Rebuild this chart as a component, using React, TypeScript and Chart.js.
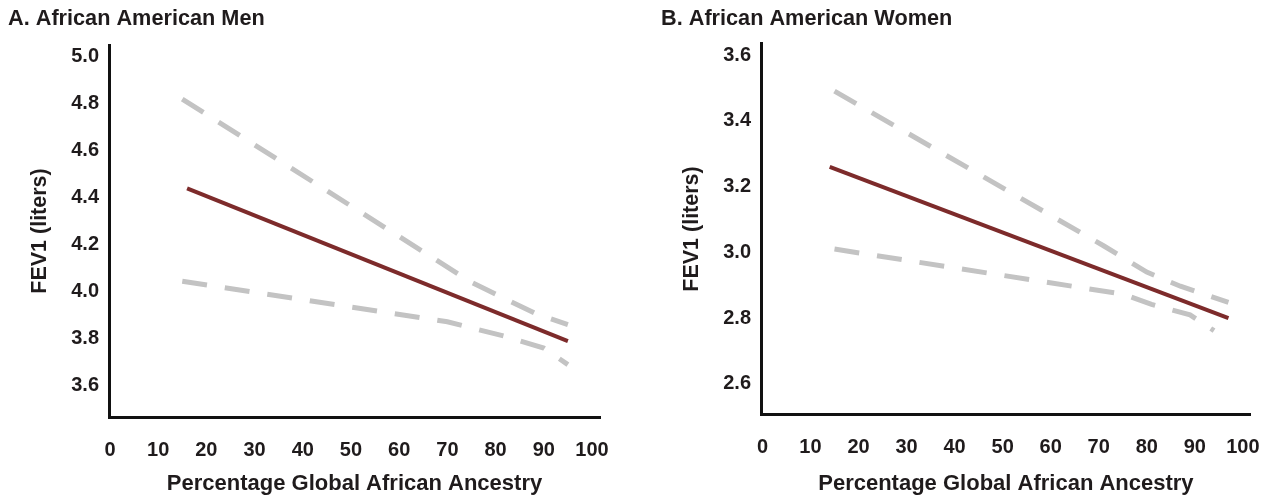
import React, { useEffect, useRef } from 'react';
import { Chart, registerables } from 'chart.js';

Chart.register(...registerables);

// ---------- data ----------
const X_TICKS = [0, 10, 20, 30, 40, 50, 60, 70, 80, 90, 100];
const MEN_Y_TICKS = [3.6, 3.8, 4.0, 4.2, 4.4, 4.6, 4.8, 5.0];
const WOMEN_Y_TICKS = [2.6, 2.8, 3.0, 3.2, 3.4, 3.6];

const MEN_FIT_X = [16, 95];
const MEN_FIT_Y = [4.44, 3.79];
const MEN_UPPER_X = [15, 75, 80, 88, 95];
const MEN_UPPER_Y = [4.82, 4.04, 3.99, 3.91, 3.86];
const MEN_LOWER_X = [15, 70, 82, 90, 95];
const MEN_LOWER_Y = [4.045, 3.872, 3.81, 3.76, 3.69];

const WOMEN_FIT_X = [14, 97];
const WOMEN_FIT_Y = [3.26, 2.8];
const WOMEN_UPPER_X = [15, 71, 80, 87, 97];
const WOMEN_UPPER_Y = [3.49, 3.02, 2.94, 2.897, 2.848];
const WOMEN_LOWER_X = [15, 75, 81, 89, 94];
const WOMEN_LOWER_Y = [3.01, 2.873, 2.842, 2.81, 2.762];

const X_TITLE = 'Percentage Global African Ancestry';
const Y_TITLE = 'FEV1 (liters)';
const MEN_TITLE = 'A. African American Men';
const WOMEN_TITLE = 'B. African American Women';

// ---------- styles ----------
const FONT = "Arial, 'Liberation Sans', Helvetica, sans-serif";
const TEXT = '#1f1b1c';
const AXIS = '#111111';
const FIT_COLOR = '#7d2b2b';
const CI_COLOR = '#c3c3c3';

const toXY = (xs: number[], ys: number[]) => xs.map((x, i) => ({ x, y: ys[i] }));

type PanelSpec = {
  title: string;
  fitX: number[]; fitY: number[];
  upX: number[]; upY: number[];
  loX: number[]; loY: number[];
  yTicks: number[];
  xMin: number; xMax: number; yMin: number; yMax: number;
  padLeft: number; padRight: number;
  yAxisWidth: number; xAxisHeight: number;
  titleBottom: number; yTitlePad: number;
};

function buildConfig(p: PanelSpec): any {
  const font = (size: number) => ({ family: FONT, size, weight: 'bold' as const, lineHeight: 1.2 });
  return {
    type: 'line',
    data: {
      datasets: [
        { data: toXY(p.fitX, p.fitY), borderColor: FIT_COLOR, borderWidth: 4, pointRadius: 0, fill: false, tension: 0 },
        { data: toXY(p.upX, p.upY), borderColor: CI_COLOR, borderWidth: 5, borderDash: [25, 18], borderCapStyle: 'butt', pointRadius: 0, fill: false, tension: 0 },
        { data: toXY(p.loX, p.loY), borderColor: CI_COLOR, borderWidth: 5, borderDash: [25, 18], borderCapStyle: 'butt', pointRadius: 0, fill: false, tension: 0 },
      ],
    },
    options: {
      responsive: false,
      animation: false,
      events: [],
      layout: { padding: { left: p.padLeft, right: p.padRight, top: 0, bottom: 0 } },
      plugins: {
        legend: { display: false },
        tooltip: { enabled: false },
        title: {
          display: true,
          text: p.title,
          align: 'start',
          color: TEXT,
          font: font(21.7),
          padding: { top: 6.5, bottom: p.titleBottom },
        },
      },
      scales: {
        x: {
          type: 'linear',
          bounds: 'data',
          min: p.xMin,
          max: p.xMax,
          afterBuildTicks: (s: any) => { s.ticks = X_TICKS.map((value) => ({ value })); },
          afterFit: (s: any) => { s.height = p.xAxisHeight; },
          grid: { display: false, drawTicks: false },
          border: { display: true, color: AXIS, width: 3 },
          ticks: { padding: 21, color: TEXT, font: font(20), autoSkip: false, maxRotation: 0, callback: (v: any) => String(v) },
          title: { display: true, text: X_TITLE, color: TEXT, font: font(22), padding: { top: 0, bottom: 2.8 } },
        },
        y: {
          type: 'linear',
          bounds: 'data',
          min: p.yMin,
          max: p.yMax,
          afterBuildTicks: (s: any) => { s.ticks = p.yTicks.map((value) => ({ value })); },
          afterFit: (s: any) => { s.width = p.yAxisWidth; },
          grid: { display: false, drawTicks: false },
          border: { display: true, color: AXIS, width: 3 },
          ticks: { padding: 10, color: TEXT, font: font(20), autoSkip: false, callback: (v: any) => Number(v).toFixed(1) },
          title: { display: true, text: Y_TITLE, color: TEXT, font: font(21.5), padding: { top: p.yTitlePad, bottom: 0 } },
        },
      },
    },
  };
}

function Panel({ spec, left, width }: { spec: PanelSpec; left: number; width: number }) {
  const ref = useRef<HTMLCanvasElement | null>(null);
  useEffect(() => {
    if (!ref.current) return;
    const chart = new Chart(ref.current, buildConfig(spec));
    return () => chart.destroy();
  }, [spec]);
  return (
    <canvas
      ref={ref}
      width={width}
      height={500}
      style={{ position: 'absolute', left, top: 0, width, height: 500 }}
    />
  );
}

const MEN_SPEC: PanelSpec = {
  title: MEN_TITLE,
  fitX: MEN_FIT_X, fitY: MEN_FIT_Y,
  upX: MEN_UPPER_X, upY: MEN_UPPER_Y,
  loX: MEN_LOWER_X, loY: MEN_LOWER_Y,
  yTicks: MEN_Y_TICKS,
  xMin: -0.2, xMax: 101.66, yMin: 3.467, yMax: 5.05,
  padLeft: 8, padRight: 40,
  yAxisWidth: 101, xAxisHeight: 83,
  titleBottom: 12.46, yTitlePad: 19.1,
};

const WOMEN_SPEC: PanelSpec = {
  title: WOMEN_TITLE,
  fitX: WOMEN_FIT_X, fitY: WOMEN_FIT_Y,
  upX: WOMEN_UPPER_X, upY: WOMEN_UPPER_Y,
  loX: WOMEN_LOWER_X, loY: WOMEN_LOWER_Y,
  yTicks: WOMEN_Y_TICKS,
  xMin: -0.3, xMax: 101.66, yMin: 2.507, yMax: 3.635,
  padLeft: 21, padRight: 28,
  yAxisWidth: 100, xAxisHeight: 85.5,
  titleBottom: 10.96, yTitlePad: 18.1,
};

export default function App() {
  return (
    <div style={{ position: 'absolute', left: 0, top: 0, width: 1281, height: 500, background: '#ffffff', overflow: 'hidden' }}>
      <Panel spec={MEN_SPEC} left={0} width={640} />
      <Panel spec={WOMEN_SPEC} left={640} width={641} />
    </div>
  );
}
